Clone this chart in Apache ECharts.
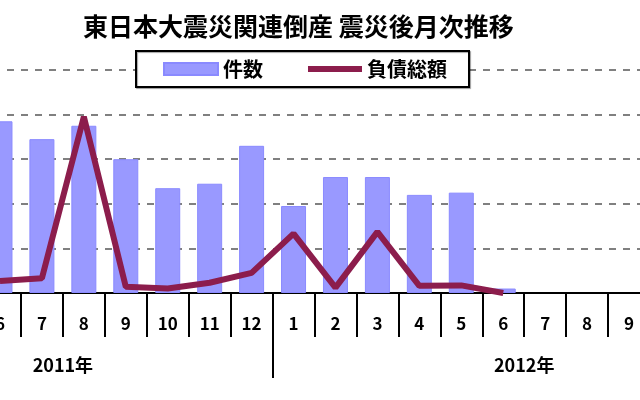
<!DOCTYPE html>
<html lang="ja">
<head>
<meta charset="UTF-8">
<title>東日本大震災関連倒産</title>
<style>
  html, body { margin: 0; padding: 0; background: #fff; }
  #chart { width: 640px; height: 400px; }
</style>
</head>
<body>
<div id="chart"></div>
<script src="https://cdn.jsdelivr.net/npm/echarts@6/dist/echarts.min.js"></script>
<script>
// 月 (2011/6 - 2012/9)
var months = ['6', '7', '8', '9', '10', '11', '12', '1', '2', '3', '4', '5', '6', '7', '8', '9'];
// 件数
var counts = [77, 69, 75, 60, 47, 49, 66, 39, 52, 52, 44, 45, 2, null, null, null];
// 負債総額
var debts = [54, 66, 790, 28, 20, 46, 90, 266, 24, 274, 32, 34, 0, null, null, null];
// 年ラベル (区切り位置に表示)
var yearLabels = ['2011年', '2012年'];
var yearAt = [2, 13];
var yearBreak = [7];

var font = 'Noto Sans CJK JP';
var chart = echarts.init(document.getElementById('chart'));

chart.setOption({
  backgroundColor: '#fff',
  animation: false,
  title: {
    text: '東日本大震災関連倒産 震災後月次推移',
    left: 78,
    top: 9,
    textStyle: { fontFamily: font, fontSize: 25, fontWeight: 'bold', color: '#000' }
  },
  legend: {
    left: 136,
    top: 51,
    padding: [8, 22, 8, 27],
    itemGap: 45,
    itemWidth: 54,
    itemHeight: 12,
    backgroundColor: '#fff',
    borderColor: '#000',
    borderWidth: 2,
    shadowColor: 'rgba(0,0,0,0.35)',
    shadowOffsetX: 1,
    shadowOffsetY: 1,
    shadowBlur: 1,
    textStyle: { fontFamily: font, fontSize: 20, fontWeight: 'bold', color: '#000' },
    data: [
      { name: '件数', icon: 'rect' },
      { name: '負債総額', icon: 'path://M0,0h54v6h-54z' }
    ]
  },
  grid: { left: -21, right: -10, top: 70, bottom: 107, outerBoundsMode: 'none' },
  xAxis: [{
    type: 'category',
    data: months,
    axisLine: { lineStyle: { color: '#000', width: 2 } },
    axisTick: { show: true, interval: 0, length: 44, lineStyle: { color: '#000', width: 2 } },
    axisLabel: {
      interval: 0, margin: 22,
      fontFamily: font, fontSize: 17, fontWeight: 'bold', color: '#000'
    }
  }, {
    type: 'value',
    position: 'bottom',
    min: 0,
    max: months.length,
    splitLine: { show: false },
    axisLine: { show: false },
    axisTick: { show: true, customValues: yearBreak, length: 85, lineStyle: { color: '#000', width: 2 } },
    axisLabel: {
      customValues: yearAt,
      margin: 63,
      fontFamily: font, fontSize: 18, fontWeight: 'bold', color: '#000',
      formatter: function (v) { return yearLabels[yearAt.indexOf(v)]; }
    }
  }],
  yAxis: [{
    type: 'value',
    min: 0, max: 100, interval: 20,
    axisLabel: { show: false },
    axisLine: { show: false },
    axisTick: { show: false },
    splitLine: { lineStyle: { color: '#808080', width: 2, type: [7, 7] } }
  }, {
    type: 'value',
    min: 0, max: 1000, interval: 200,
    axisLabel: { show: false },
    axisLine: { show: false },
    axisTick: { show: false },
    splitLine: { show: false }
  }],
  series: [{
    name: '件数',
    type: 'bar',
    xAxisIndex: 0,
    yAxisIndex: 0,
    barWidth: 25,
    data: counts,
    itemStyle: { color: '#9999ff', borderColor: '#8a8aff', borderWidth: 1 }
  }, {
    name: '負債総額',
    type: 'line',
    xAxisIndex: 0,
    yAxisIndex: 1,
    data: debts,
    symbol: 'none',
    lineStyle: { color: '#8c1d4c', width: 6 },
    itemStyle: { color: '#8c1d4c' }
  }]
});
</script>
</body>
</html>
